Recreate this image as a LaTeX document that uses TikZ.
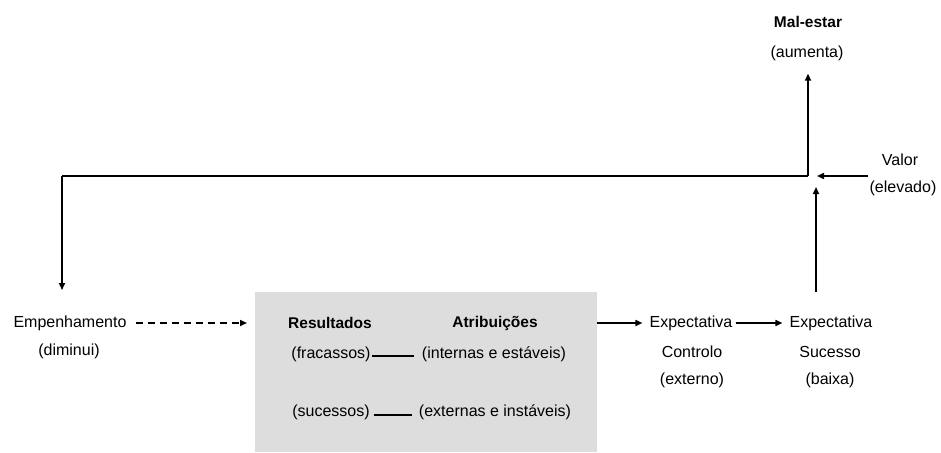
\documentclass[tikz,border=0pt]{standalone}
\usepackage{fontspec}
\setmainfont{Liberation Sans}
\usetikzlibrary{arrows.meta}

\begin{document}
\begin{tikzpicture}[x=1pt, y=-1pt,
    txt/.style={inner sep=1pt, font=\fontsize{16}{18}\selectfont},
    bold/.style={txt, font=\fontsize{15.5}{18}\selectfont\bfseries},
    arr/.style={line width=1.6pt, -{Triangle[length=7pt,width=6pt]}},
    link/.style={line width=1.6pt}]

  \useasboundingbox (0,0) rectangle (941,452);

  % Grey block with results and attributions
  \node[fill=gray!27, minimum width=342, minimum height=160, inner sep=0pt,
    anchor=north west] (box) at (255,292) {};
  \node[bold] (res) at (330,323) {Resultados};
  \node[bold] (atr) at (495,323) {Atribuições};
  \node[txt] (frac) at (331,354) {(fracassos)};
  \node[txt] (intern) at (494,354) {(internas e estáveis)};
  \node[txt] (suc) at (331,412) {(sucessos)};
  \node[txt] (extern) at (495,412) {(externas e instáveis)};
  \draw[link, shorten >=7pt] ([yshift=-2pt]frac.east) -- ([yshift=-2pt]intern.west);
  \draw[link, shorten <=3pt, shorten >=6pt] ([yshift=-3pt]suc.east) -- ([yshift=-3pt]extern.west);

  % Left side
  \node[txt] (empen) at (70,323) {Empenhamento};
  \node[txt] (dimin) at (69,351) {(diminui)};
  \draw[arr, dash pattern=on 7pt off 5pt, shorten <=8pt, shorten >=8pt]
    (empen.east) -- (box.west |- empen.east);

  % Expectations
  \node[txt] (expc) at (691,323) {Expectativa};
  \node[txt] (ctrl) at (692,352) {Controlo};
  \node[txt] (extn) at (692,380) {(externo)};
  \node[txt] (exps) at (831,323) {Expectativa};
  \node[txt] (sucs) at (830,352) {Sucesso};
  \node[txt] (baix) at (830,380) {(baixa)};
  \draw[arr, shorten >=6pt] (box.east |- expc.west) -- (expc.west);
  \draw[arr, shorten <=2pt, shorten >=6pt] (expc.east) -- (exps.west);

  % Top: value and distress
  \node[bold] (mal) at (808,22) {Mal-estar};
  \node[txt] (aum) at (807,53) {(aumenta)};
  \node[txt] (valor) at (900,160) {Valor};
  \node[txt] (elev) at (903,188) {(elevado)};

  \coordinate (jn) at (808,176);
  \coordinate (vin) at (816,187);
  \coordinate (lc) at (62,176);
  \coordinate (ein) at (62,290);

  % Feedback loop
  \draw[link] (jn) -- (lc);
  \draw[arr] (lc) -- (ein);
  \draw[arr, shorten >=12pt] (jn) -- (aum.south -| jn);
  \draw[arr, shorten <=22pt] (vin |- exps.north) -- (vin);
  \draw[arr] (elev.west |- jn) -- ([xshift=9pt]jn);

\end{tikzpicture}
\end{document}
